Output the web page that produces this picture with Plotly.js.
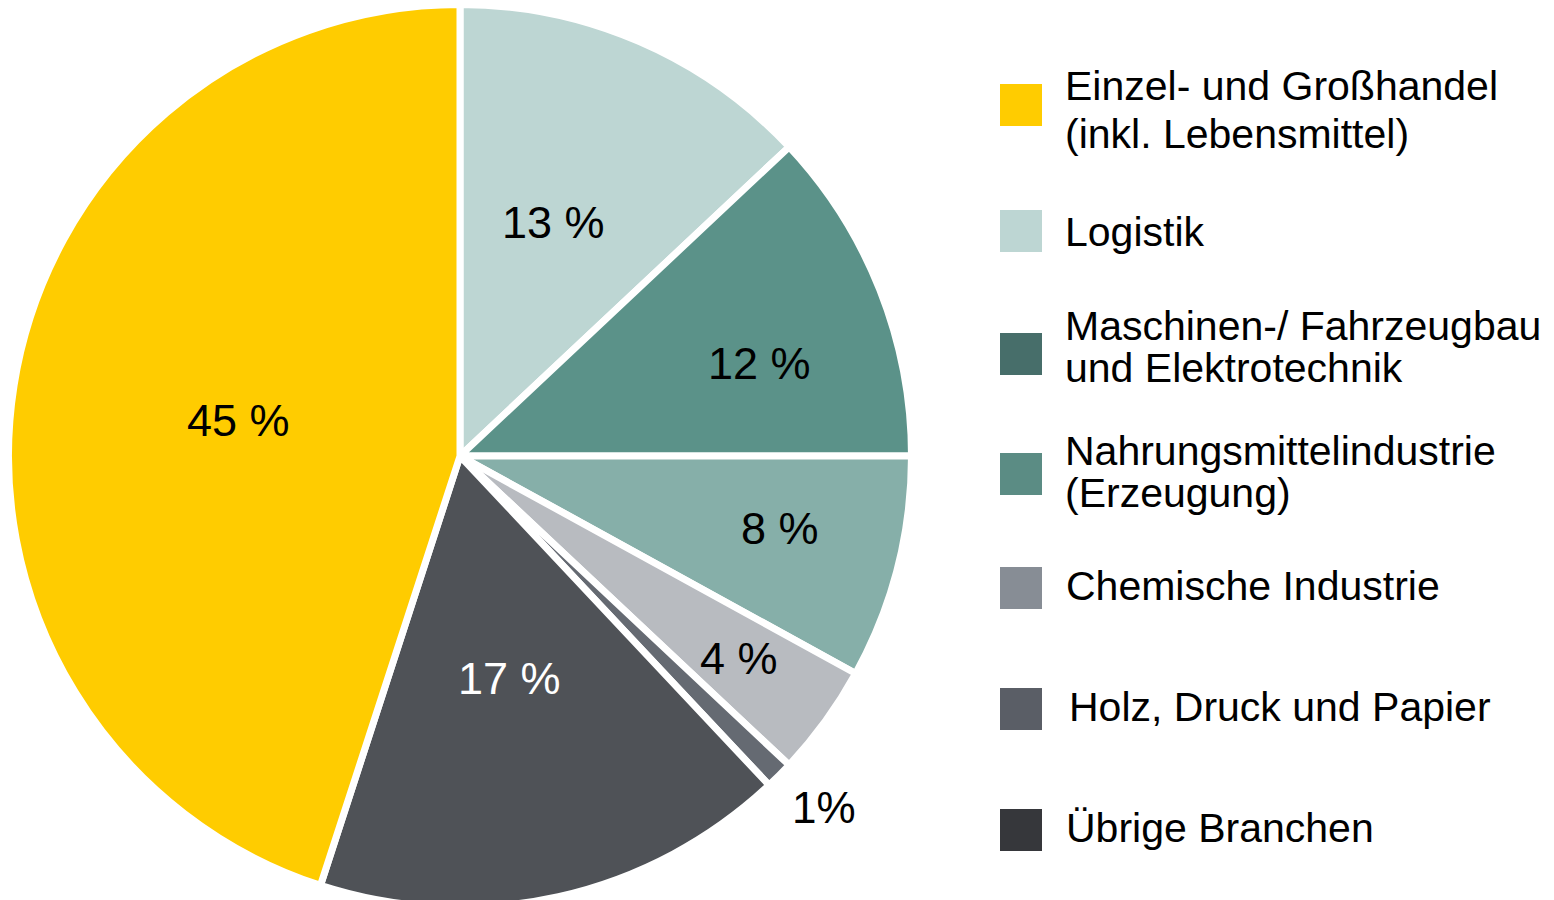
<!DOCTYPE html>
<html>
<head>
<meta charset="utf-8">
<script src="https://cdn.plot.ly/plotly-3.0.1.min.js"></script>
<style>
  html, body { margin: 0; padding: 0; background: #ffffff; overflow: hidden; }
  #chart { width: 1554px; height: 912px; }
</style>
</head>
<body>
<div id="chart"></div>
<script>
// Slices, clockwise from 12 o'clock
const sliceValues = [13, 12, 8, 4, 1, 17, 45];
const sliceText = ["13 %", "12 %", "8 %", "4 %", "1%", "17 %", "45 %"];
const sliceColors = ["#bdd6d3", "#5b9289", "#86afa9", "#b8bbc0", "#656a72", "#4f5257", "#ffcc00"];
const sliceTextColors = ["#000000", "#000000", "#000000", "#000000", "#000000", "#ffffff", "#000000"];

// Legend entries
const legendLabels = [
  "Einzel- und Großhandel<br>(inkl. Lebensmittel)",
  "Logistik",
  "Maschinen-/ Fahrzeugbau<br>und Elektrotechnik",
  "Nahrungsmittelindustrie<br>(Erzeugung)",
  "Chemische Industrie",
  "Holz, Druck und Papier",
  "Übrige Branchen"
];
const legendColors = ["#ffcc00", "#bdd6d3", "#476e6a", "#5b8c84", "#878d95", "#5a5e66", "#36373b"];

const W = 1554, H = 912;
const FONT = "'Liberation Sans', Arial, sans-serif";

// pie geometry (pixels)
const CX = 460, CY = 456, RPIE = 451.5;
// placement of each label: fraction of radius and angular nudge (degrees)
const labelRadial = [0.562, 0.70, 0.732, 0.77, 1.13, 0.51, 0.50];
const labelNudge = [-1.7, 4.4, -1.7, 0, -1.0, 0, 0];
const labelSize = [45, 45, 45, 45, 44, 45, 45];

// legend layout (pixel positions)
const boxCenters = [105, 231, 354, 474, 588, 709, 830];
const textLineCenters = [[86, 134], [232], [326, 368], [451, 493], [586], [707], [828]];
const textX = [1063, 1063, 1063, 1063, 1064, 1067, 1064];

const px = x => x / W;
const py = y => 1 - y / H;

const shapes = [];
const annotations = [];
legendLabels.forEach((lab, i) => {
  const c = boxCenters[i];
  shapes.push({
    type: "rect", xref: "paper", yref: "paper",
    x0: px(1000), x1: px(1042), y0: py(c + 21), y1: py(c - 21),
    fillcolor: legendColors[i], line: { width: 0 }
  });
  lab.split("<br>").forEach((line, j) => {
    annotations.push({
      xref: "paper", yref: "paper",
      x: px(textX[i]), y: py(textLineCenters[i][j]),
      xanchor: "left", yanchor: "middle",
      text: line, showarrow: false,
      font: { family: FONT, size: 41, color: "#000000" }
    });
  });
});

// slice labels at the mid-angle of each slice
const total = sliceValues.reduce((a, b) => a + b, 0);
let cum = 0;
sliceValues.forEach((v, i) => {
  const mid = (cum + v / 2) / total * 2 * Math.PI + labelNudge[i] * Math.PI / 180;
  cum += v;
  const r = labelRadial[i] * (RPIE - 3.5);
  annotations.push({
    xref: "paper", yref: "paper",
    x: px(CX + r * Math.sin(mid)), y: py(CY - r * Math.cos(mid)),
    xanchor: "center", yanchor: "middle",
    text: sliceText[i], showarrow: false,
    font: { family: FONT, size: labelSize[i], color: sliceTextColors[i] }
  });
});

const trace = {
  type: "pie",
  values: sliceValues,
  textinfo: "none",
  sort: false,
  direction: "clockwise",
  rotation: 0,
  hoverinfo: "none",
  marker: { colors: sliceColors, line: { color: "#ffffff", width: 7 } },
  domain: { x: [(CX - RPIE) / W, (CX + RPIE) / W], y: [0, 1] },
  showlegend: false
};

const layout = {
  width: W, height: H,
  margin: { l: 0, r: 0, t: 0, b: 0 },
  paper_bgcolor: "#ffffff",
  plot_bgcolor: "#ffffff",
  showlegend: false,
  shapes: shapes,
  annotations: annotations,
  font: { family: FONT }
};

Plotly.newPlot("chart", [trace], layout, { staticPlot: true });
</script>
</body>
</html>
